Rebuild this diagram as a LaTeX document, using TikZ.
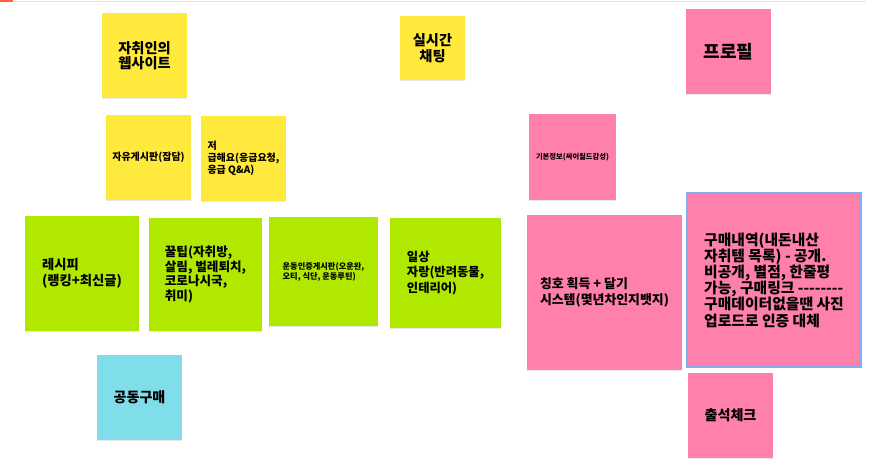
\documentclass[tikz,border=0pt]{standalone}
\usepackage{fontspec}
\setmainfont{Noto Sans CJK KR}
\usetikzlibrary{shadows}
\definecolor{stickyyellow}{RGB}{255,233,60}
\definecolor{stickygreen}{RGB}{176,232,0}
\definecolor{stickypink}{RGB}{255,128,171}
\definecolor{stickycyan}{RGB}{128,222,234}
\definecolor{selectblue}{RGB}{135,170,245}
\begin{document}
\begin{tikzpicture}[
x=1pt, y=-1pt,
note/.style={
rectangle,
inner sep=0pt,
align=center,
font=\bfseries,
drop shadow={shadow xshift=0pt, shadow yshift=-1.2pt, opacity=0.18}
},
yellownote/.style={note, fill=stickyyellow},
greennote/.style={note, fill=stickygreen},
pinknote/.style={note, fill=stickypink},
cyannote/.style={note, fill=stickycyan},
sz/.style n args={2}{minimum width=#1pt, minimum height=#2pt},
fs/.style n args={2}{font=\bfseries\fontsize{#1}{#2}\selectfont}
]
\useasboundingbox (0,0) rectangle (881,473);
% top bar
\draw[line width=1pt, black!10] (13,1.5) -- (866,1.5);
\draw[line width=2pt, red!55!orange!80] (0,1) -- (13,1);
% yellow stickies
\node[yellownote, sz={85}{85}, fs={14.2}{15.6}] (website) at (144.5,55.5)
{자취인의\\웹사이트};
\node[yellownote, sz={65}{64}, fs={14.2}{16}] (chat) at (432.5,48)
{실시간\\채팅};
\node[yellownote, sz={85}{85}, fs={10}{12}] (freeboard) at (148.5,157.5)
{자유게시판(잡담)};
\node[yellownote, sz={85}{85}, fs={10}{12}, align=left] (urgent) at (243.5,158.5)
{저\\급해요(응급요청,\\응급 Q\&A)};
% green stickies
\node[greennote, sz={114}{115}, fs={13.3}{16}, align=left] (recipe) at (82,273.5)
{레시피\\(랭킹+최신글)};
\node[greennote, sz={113}{113}, fs={12.6}{14.7}, align=left] (tips) at (205.5,274.5)
{꿀팁(자취방,\\살림, 벌레퇴치,\\코로나시국,\\취미)};
\node[greennote, sz={109}{109}, fs={8.2}{10}, align=left] (workout) at (323.5,271.5)
{운동인증게시판(오운완,\\오티, 식단, 운동루틴)};
\node[greennote, sz={111}{110}, fs={12.3}{15.5}, align=left] (daily) at (445.5,273)
{일상\\자랑(반려동물,\\인테리어)};
% cyan sticky
\node[cyannote, sz={85}{85}, fs={14.1}{16}] (groupbuy) at (139.5,397.5)
{공동구매};
% pink stickies
\node[pinknote, sz={85}{85}, fs={18}{20}] (profile) at (728.5,51.5)
{프로필};
\node[pinknote, sz={87}{86}, fs={7.3}{9}] (basicinfo) at (572.5,157)
{기본정보(싸이월드감성)};
\node[pinknote, sz={155}{155}, fs={12.9}{16}, align=left] (badge) at (604.5,292.5)
{칭호 획득 + 달기\\시스템(몇년차인지뱃지)};
\node[pinknote, sz={174}{174}, fs={14.8}{16.2}, align=left, draw=selectblue, line width=1.5pt] (purchase) at (774,280)
{구매내역(내돈내산\\자취템 목록) - 공개.\\비공개, 별점, 한줄평\\가능, 구매링크 -{}-{}-{}-{}-{}-{}-{}-\\구매데이터없을땐 사진\\업로드로 인증 대체};
\node[pinknote, sz={85}{85}, fs={14.1}{16}] (attendance) at (730.5,415.5)
{출석체크};
\end{tikzpicture}
\end{document}
